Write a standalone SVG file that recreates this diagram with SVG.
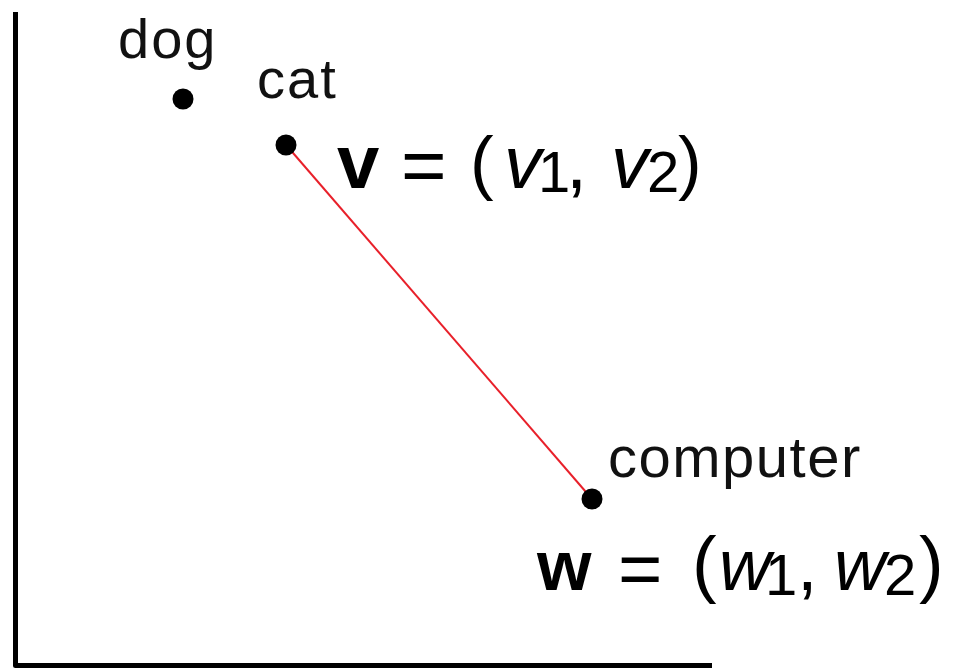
<svg xmlns="http://www.w3.org/2000/svg" width="959" height="669" viewBox="0 0 959 669">
<style>
.lbl{font-family:"Liberation Sans",Arial,sans-serif;font-size:56px;fill:#111;letter-spacing:2px}
.eq{font-family:"Liberation Sans",Arial,sans-serif;fill:#000}
.b{font-weight:bold}
.i{font-style:italic}
.dot{fill:#000}
.axis{stroke:#000;stroke-width:5;fill:none;stroke-linejoin:round}
</style>
<rect width="959" height="669" fill="#fff"/>
<g id="axes"><path class="axis" d="M15.5 12 V665.5 H712"/></g>
<g id="connectors"><line x1="287" y1="146" x2="592" y2="499" stroke="#e8202a" stroke-width="2"/></g>
<g id="dog"><circle class="dot" cx="183" cy="99" r="10.5"/><text class="lbl" x="118" y="58">dog</text></g>
<g id="cat"><circle class="dot" cx="286" cy="145" r="10.5"/><text class="lbl" x="257" y="98">cat</text></g>
<g id="computer"><circle class="dot" cx="592" cy="499" r="10.5"/><text class="lbl" x="608" y="477" style="font-size:58px;letter-spacing:1.5px">computer</text></g>
<g id="v-eq"><text class="eq"><tspan class="b" x="337" y="188" font-size="76">v</tspan><tspan x="401" y="192" font-size="78">=</tspan><tspan x="470" y="186" font-size="71">(</tspan><tspan class="i" x="504" y="188" font-size="75">v</tspan><tspan x="538" y="192" font-size="58">1</tspan><tspan x="566" y="188" font-size="76">,</tspan><tspan class="i" x="611" y="188" font-size="75">v</tspan><tspan x="647" y="192" font-size="58">2</tspan><tspan x="678" y="186" font-size="71">)</tspan></text></g>
<g id="w-eq"><text class="eq"><tspan class="b" x="537" y="590" font-size="70">w</tspan><tspan x="618" y="595" font-size="76">=</tspan><tspan x="692" y="589" font-size="74">(</tspan><tspan class="i" x="719" y="590" font-size="72">w</tspan><tspan x="765" y="595" font-size="58">1</tspan><tspan x="797" y="590" font-size="74">,</tspan><tspan class="i" x="834" y="590" font-size="72">w</tspan><tspan x="884" y="595" font-size="58">2</tspan><tspan x="919" y="589" font-size="74">)</tspan></text></g>
</svg>
